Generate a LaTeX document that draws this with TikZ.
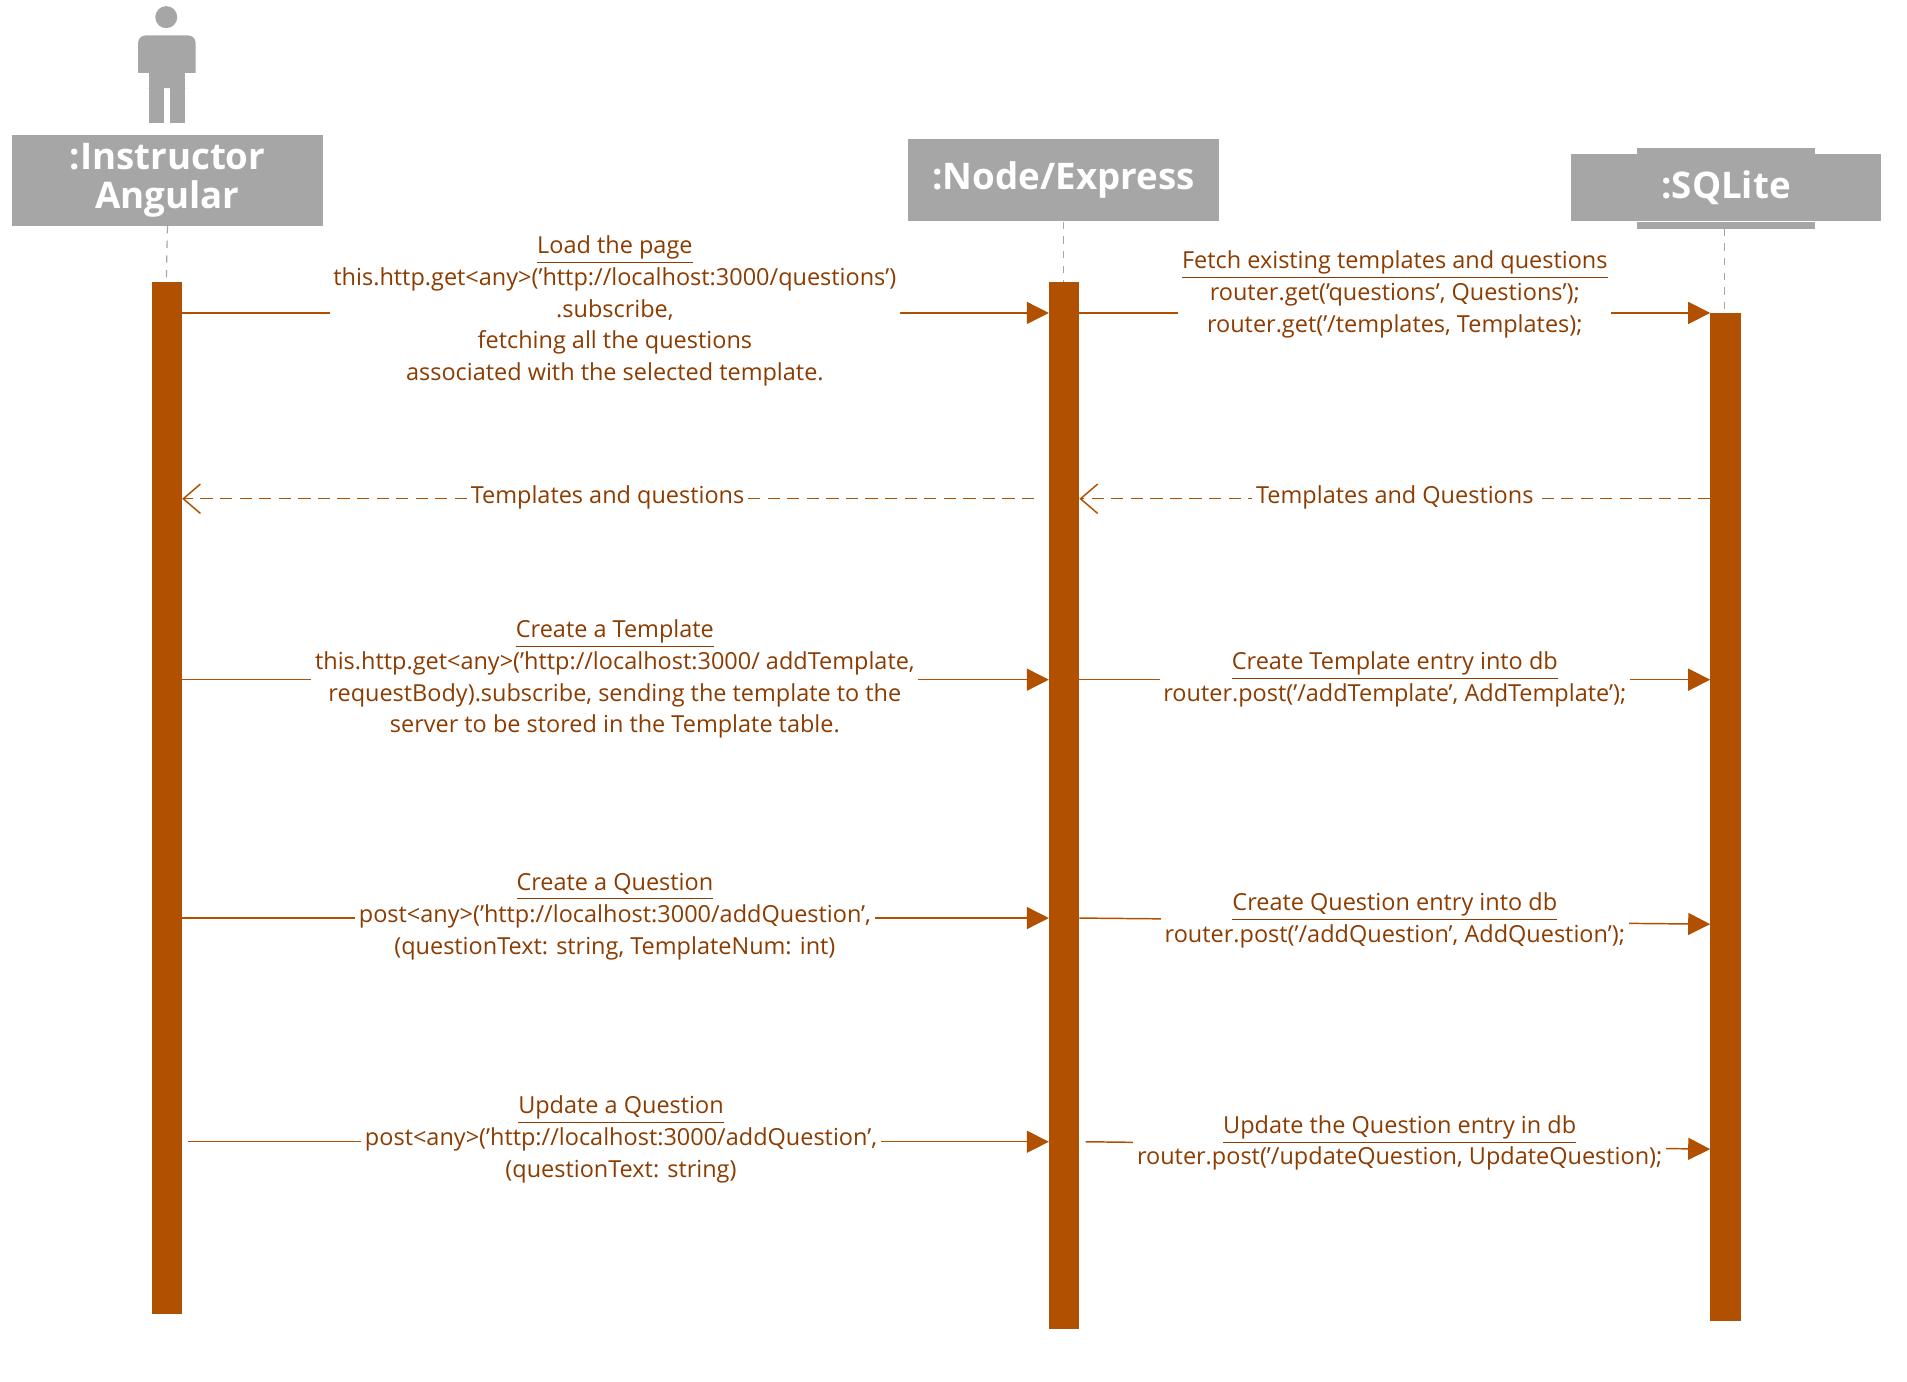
\documentclass[tikz,border=0pt]{standalone}
\usepackage{fontspec}
\setmainfont{Open Sans}
\usetikzlibrary{arrows.meta}
\definecolor{bar}{RGB}{176,80,0}
\definecolor{txt}{RGB}{140,60,0}
\definecolor{gr}{RGB}{166,166,166}
\tikzset{
  hdr/.style={fill=gr,text=white,font=\fontsize{15}{19}\selectfont\bfseries,align=center},
  lbl/.style={fill=white,text=txt,align=center,inner sep=1.5pt,font=\fontsize{9.6}{13}\selectfont},
  msg/.style={draw=bar,line width=0.6pt,-{Triangle[length=9pt,width=9pt]}},
  ret/.style={draw=bar,line width=0.6pt,dashed,dash pattern=on 5pt off 3pt,-{Straight Barb[length=7pt,width=12pt]}},
  life/.style={draw=gr,dashed,line width=0.5pt},
  actbar/.style={fill=bar,draw=none}
}
\begin{document}
\begin{tikzpicture}[x=0.5pt,y=-0.5pt]
\useasboundingbox (0,0) rectangle (1560,1130);
% actor
\fill[gr] (136,14) circle (9);
\fill[gr,rounded corners=3pt] (113,29) rectangle (160,72);
\fill[gr] (122,60) rectangle (134,101);
\fill[gr] (139,60) rectangle (151,101);
\fill[white] (113,60) rectangle (122,72);
\fill[white] (151,60) rectangle (160,72);
% headers
\node[hdr,minimum width=127pt,minimum height=33.5pt] (ia) at (137,147.5) {:Instructor\\[-3pt]Angular};
\node[hdr,minimum width=127pt,minimum height=33.5pt] (ne) at (870,147.5) {:Node/Express};
\fill[gr] (1339,121) rectangle (1485,126);
\fill[gr] (1339,182) rectangle (1485,187);
\node[hdr,minimum width=127pt,minimum height=27.5pt] (sq) at (1412,153.5) {:SQLite};
% lifelines
\coordinate (ia1) at (136,231); \coordinate (ne1) at (870,231); \coordinate (sq0) at (1411,187); \coordinate (sq1) at (1411,256);
\draw[life] (ia.south) -- (ia1);
\draw[life] (ne.south) -- (ne1);
\draw[life] (sq0) -- (sq1);
% bars
\fill[actbar] (124,231) rectangle (149,1075);
\fill[actbar] (858,231) rectangle (883,1087);
\fill[actbar] (1399,256) rectangle (1424,1081);
% coordinates
\foreach \y/\n in {256/a,408/b,556/c,751/d,934/e}{
  \coordinate (L\n) at (149,\y); \coordinate (M\n) at (858,\y); \coordinate (N\n) at (883,\y);}
\coordinate (Le) at (154,934);
\coordinate (Ne) at (888,934);
\foreach \y/\n in {256/a,408/b,556/c,756/d,940/e}{\coordinate (S\n) at (1399,\y);}
\coordinate (Nd2) at (883,751);
% arrows
\draw[msg] (La) -- (Ma);
\draw[msg] (Na) -- (Sa);
\coordinate (Mb) at (846,408);
\draw[ret] (Mb) -- (Lb);
\draw[ret] (Sb) -- (Nb);
\draw[msg] (Lc) -- (Mc);
\draw[msg] (Nc) -- (Sc);
\draw[msg] (Ld) -- (Md);
\draw[msg] (Nd2) -- (1399,756);
\draw[msg] (Le) -- (Me);
\draw[msg] (Ne) -- (Se);
% labels
\node[lbl] (t1) at (503,254.5) {\underline{Load the page}\\this.http.get<any>('http://localhost:3000/questions')\\.subscribe,\\fetching all the questions\\associated with the selected template.};
\node[lbl] (t2) at (1141,241) {\underline{Fetch existing templates and questions}\\router.get('questions', Questions');\\router.get('/templates, Templates);};
\node[lbl] (t3) at (497,407) {Templates and questions};
\node[lbl] (t4) at (1141,407) {Templates and Questions};
\node[lbl] (t5) at (503,555.5) {\underline{Create a Template}\\this.http.get<any>('http://localhost:3000/ addTemplate,\\requestBody).subscribe, sending the template to the\\server to be stored in the Template table.};
\node[lbl] (t6) at (1141,555.5) {\underline{Create Template entry into db}\\router.post('/addTemplate', AddTemplate');};
\node[lbl] (t7) at (503,750) {\underline{Create a Question}\\post<any>('http://localhost:3000/addQuestion',\\(questionText: string, TemplateNum: int)};
\node[lbl] (t8) at (1141,753) {\underline{Create Question entry into db}\\router.post('/addQuestion', AddQuestion');};
\node[lbl] (t9) at (508,932) {\underline{Update a Question}\\post<any>('http://localhost:3000/addQuestion',\\(questionText: string)};
\node[lbl] (t10) at (1145,935) {\underline{Update the Question entry in db}\\router.post('/updateQuestion, UpdateQuestion);};
\end{tikzpicture}
\end{document}
